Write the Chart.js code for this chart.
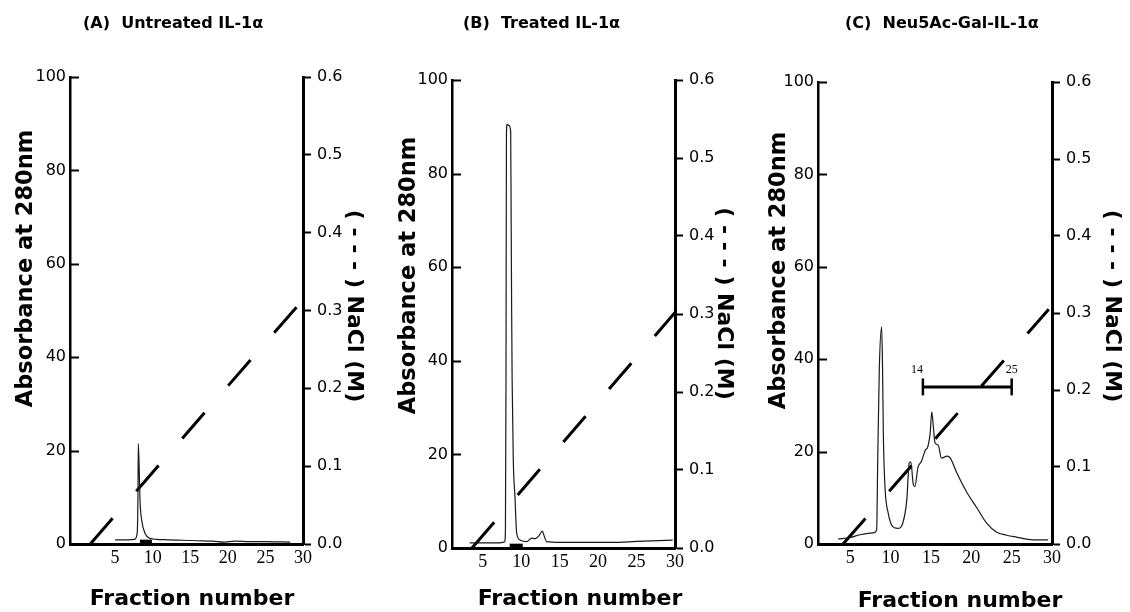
<!DOCTYPE html>
<html>
<head>
<meta charset="utf-8">
<script src="https://cdn.jsdelivr.net/npm/chart.js@4"></script>
<style>
html,body{margin:0;padding:0;background:#fff;}
#wrap{position:relative;width:1130px;height:612px;overflow:hidden;background:#fff;}
canvas{position:absolute;top:0;}
</style>
</head>
<body>
<div id="wrap">
<canvas id="cA" width="377" height="612" style="left:0px"></canvas>
<canvas id="cB" width="373" height="612" style="left:377px"></canvas>
<canvas id="cC" width="380" height="612" style="left:750px"></canvas>
</div>
<script>
// ---------- tick labels ----------
const fractionTickValues = [5, 10, 15, 20, 25, 30];
const absorbanceTickValues = [0, 20, 40, 60, 80, 100];
const naclTickValues = [0, 0.1, 0.2, 0.3, 0.4, 0.5, 0.6];

// ---------- texts ----------
const panelTitles = ["(A)  Untreated IL-1\u03b1", "(B)  Treated IL-1\u03b1", "(C)  Neu5Ac-Gal-IL-1\u03b1"];
const xTitleText = "Fraction number";
const yTitleText = "Absorbance at 280nm";
const y2TitleText = "( - - - ) NaCl (M)";

// ---------- panel A : untreated ----------
const fractionA   = [5.0, 6.5, 7.6, 7.95, 8.05, 8.09, 8.22, 8.31, 8.54, 8.98, 9.64, 10.5, 12.0, 14.0, 16.0, 18.0, 19.5, 21.0, 23.0, 25.0, 28.3];
const absorbanceA = [0.9, 0.9, 1.0, 2.5, 12.0, 21.5, 15.2, 9.4, 5.1, 2.3, 1.2, 1.0, 0.9, 0.8, 0.7, 0.6, 0.4, 0.6, 0.5, 0.5, 0.4];
const gradientFractionA = [1.7, 29.2];
const gradientNaclA     = [0, 0.305];
const collectedFractionA = [8.3, 9.9];
const collectedLevelA    = [0.5, 0.5];

// ---------- panel B : treated ----------
const fractionB   = [3.3, 5.0, 7.0, 7.85, 7.95, 8.02, 8.08, 8.15, 8.4, 8.63, 8.7, 8.76, 8.82, 8.97, 9.19, 9.41, 9.84, 10.7, 11.36, 11.8, 12.3, 12.74, 13.0, 13.3, 15.0, 18.0, 21.9, 25.0, 29.7];
const absorbanceB = [1.1, 1.1, 1.1, 1.3, 4.0, 35.0, 88.0, 90.5, 90.3, 89.0, 68.0, 50.0, 36.0, 18.8, 10.9, 3.2, 1.7, 1.35, 2.1, 2.0, 2.6, 3.6, 2.5, 1.35, 1.2, 1.2, 1.2, 1.4, 1.7];
const gradientFractionB = [3.6, 30];
const gradientNaclB     = [0, 0.302];
const collectedFractionB = [8.5, 10.2];
const collectedLevelB    = [0.5, 0.5];

// ---------- panel C : Neu5Ac-Gal ----------
const fractionC   = [3.5, 5.0, 6.2, 7.8, 8.27, 8.4, 8.6, 8.89, 9.0, 9.1, 9.3, 9.7, 10.3, 10.9, 11.5, 12.0, 12.3, 12.5, 12.8, 13.0, 13.4, 13.8, 14.3, 14.6, 14.9, 15.1, 15.3, 15.5, 15.9, 16.3, 17.0, 17.4, 18.2, 19.4, 20.7, 21.9, 23.1, 24.4, 25.6, 27.6, 29.5];
const absorbanceC = [1.1, 1.4, 2.0, 2.4, 3.0, 18.0, 38.0, 47.0, 38.0, 23.6, 12.4, 6.7, 3.7, 3.4, 4.5, 9.5, 17.5, 17.8, 13.0, 12.4, 16.7, 17.8, 20.3, 21.0, 24.0, 28.6, 25.3, 21.9, 21.4, 18.6, 19.0, 18.6, 15.4, 11.3, 7.8, 4.5, 2.6, 1.9, 1.5, 0.9, 0.9];
const gradientFractionC = [4.1, 29.6];
const gradientNaclC     = [0, 0.305];
const poolFractionC = [14, 25];
const poolLevelC    = [34, 34];
const poolLabelsC   = ["14", "25"];

// ---------- helpers ----------
const pts = (xs, ys) => xs.map((x, i) => ({x: x, y: ys[i]}));
const setTicks = (vals) => (scale) => { scale.ticks = vals.map(v => ({value: v})); };

function decorPlugin(p) {
  return {
    id: 'decor' + p.id,
    afterDraw(chart) {
      const ctx = chart.ctx, ca = chart.chartArea;
      const ys = chart.scales.y, xs = chart.scales.x;
      ctx.save();
      // inward ticks on the left axis
      ctx.strokeStyle = '#000'; ctx.lineWidth = 2;
      ys.ticks.forEach(t => {
        const yy = Math.round(ys.getPixelForValue(t.value)) + 0.5;
        ctx.beginPath(); ctx.moveTo(ca.left, yy); ctx.lineTo(ca.left + 9, yy); ctx.stroke();
      });
      ctx.fillStyle = '#000';
      ctx.textBaseline = 'alphabetic';
      // panel title
      ctx.font = 'bold 16px "DejaVu Sans"'; ctx.textAlign = 'left';
      ctx.fillText(p.title, p.titleX, p.titleY);
      // x title
      ctx.font = 'bold 22px "DejaVu Sans"'; ctx.textAlign = 'center';
      ctx.fillText(xTitleText, p.xTitleX, p.xTitleY);
      // left title
      ctx.save(); ctx.translate(p.yTitleX, p.yTitleY); ctx.rotate(-Math.PI / 2);
      ctx.font = 'bold 22.5px "DejaVu Sans"'; ctx.textAlign = 'center';
      ctx.fillText(yTitleText, 0, 0); ctx.restore();
      // right title
      ctx.save(); ctx.translate(p.y2TitleX, p.y2TitleY); ctx.rotate(Math.PI / 2);
      ctx.font = 'bold 22px "DejaVu Sans"'; ctx.textAlign = 'center';
      ctx.fillText(y2TitleText, 0, 0); ctx.restore();
      // pool labels
      if (p.poolX) {
        ctx.font = '12px "Liberation Serif"'; ctx.textAlign = 'center';
        p.poolX.forEach((fx, i) => {
          const px = xs.getPixelForValue(fx) + (i === 0 ? -6 : 0);
          const py = ys.getPixelForValue(p.poolY[i]) - 14;
          ctx.fillText(p.poolLabels[i], px, py);
        });
      }
      ctx.restore();
    }
  };
}

function buildPanel(canvasId, p) {
  const datasets = [
    {data: pts(p.fx, p.ay), borderColor: '#1a1a1a', borderWidth: 1.2, pointRadius: 0,
     cubicInterpolationMode: 'monotone', yAxisID: 'y'},
    {data: pts(p.gx, p.gy), borderColor: '#000', borderWidth: 3, borderDash: [34, 36],
     borderCapStyle: 'butt', pointRadius: 0, yAxisID: 'y2'}
  ];
  if (p.cx) datasets.push({data: pts(p.cx, p.cy), borderColor: '#000', borderWidth: 4, pointRadius: 0, yAxisID: 'y'});
  if (p.poolX) datasets.push({data: pts(p.poolX, p.poolY), borderColor: '#000', borderWidth: 3,
     pointStyle: 'line', pointRadius: 8.5, pointRotation: 90, pointBorderWidth: 2.5,
     pointBorderColor: '#000', pointBackgroundColor: '#000', yAxisID: 'y'});

  return new Chart(document.getElementById(canvasId), {
    type: 'line',
    data: {datasets: datasets},
    options: {
      responsive: false,
      animation: false,
      events: [],
      layout: {padding: {top: p.top, left: 0, right: 0, bottom: 0}},
      plugins: {legend: {display: false}, tooltip: {enabled: false}, title: {display: false}},
      scales: {
        x: {
          type: 'linear', min: p.xmin, max: 30,
          afterBuildTicks: setTicks(fractionTickValues),
          afterFit: s => { s.height = p.hx; },
          grid: {display: false, drawTicks: false, tickLength: 0},
          border: {display: true, color: '#000', width: 3},
          ticks: {font: {family: 'Liberation Serif', size: 18}, color: '#000', padding: 3,
                  maxRotation: 0, autoSkip: false, callback: v => String(v)}
        },
        y: {
          type: 'linear', position: 'left', min: 0, max: 100,
          afterBuildTicks: setTicks(absorbanceTickValues),
          afterFit: s => { s.width = p.wy; },
          grid: {display: false, drawTicks: false, tickLength: 0},
          border: {display: true, color: '#000', width: 2.5},
          ticks: {font: {family: 'DejaVu Sans', size: 16}, color: '#000', padding: 4, callback: v => String(v)}
        },
        y2: {
          type: 'linear', position: 'right', min: 0, max: 0.6,
          afterBuildTicks: setTicks(naclTickValues),
          afterFit: s => { s.width = p.wy2; },
          grid: {display: true, drawOnChartArea: false, drawTicks: true, tickLength: 8, tickWidth: 2, tickColor: '#000'},
          border: {display: true, color: '#000', width: 3},
          ticks: {font: {family: 'DejaVu Sans', size: 16}, color: '#000', padding: 6, callback: v => v.toFixed(1)}
        }
      }
    },
    plugins: [decorPlugin(p)]
  });
}

buildPanel('cA', {
  id: 'A', fx: fractionA, ay: absorbanceA, gx: gradientFractionA, gy: gradientNaclA,
  cx: collectedFractionA, cy: collectedLevelA,
  xmin: -1, top: 77, wy: 70, wy2: 74, hx: 68,
  title: panelTitles[0], titleX: 83, titleY: 28,
  xTitleX: 192, xTitleY: 605, yTitleX: 32, yTitleY: 268.5, y2TitleX: 348, y2TitleY: 306
});
buildPanel('cB', {
  id: 'B', fx: fractionB, ay: absorbanceB, gx: gradientFractionB, gy: gradientNaclB,
  cx: collectedFractionB, cy: collectedLevelB,
  xmin: 1, top: 80, wy: 75, wy2: 75, hx: 64,
  title: panelTitles[1], titleX: 86, titleY: 28,
  xTitleX: 203, xTitleY: 605, yTitleX: 38, yTitleY: 275.5, y2TitleX: 341, y2TitleY: 303.5
});
buildPanel('cC', {
  id: 'C', fx: fractionC, ay: absorbanceC, gx: gradientFractionC, gy: gradientNaclC,
  poolX: poolFractionC, poolY: poolLevelC, poolLabels: poolLabelsC,
  xmin: 1, top: 82, wy: 68, wy2: 78, hx: 68,
  title: panelTitles[2], titleX: 95, titleY: 28,
  xTitleX: 210, xTitleY: 607, yTitleX: 35, yTitleY: 270.5, y2TitleX: 356, y2TitleY: 306
});
</script>
</body>
</html>
